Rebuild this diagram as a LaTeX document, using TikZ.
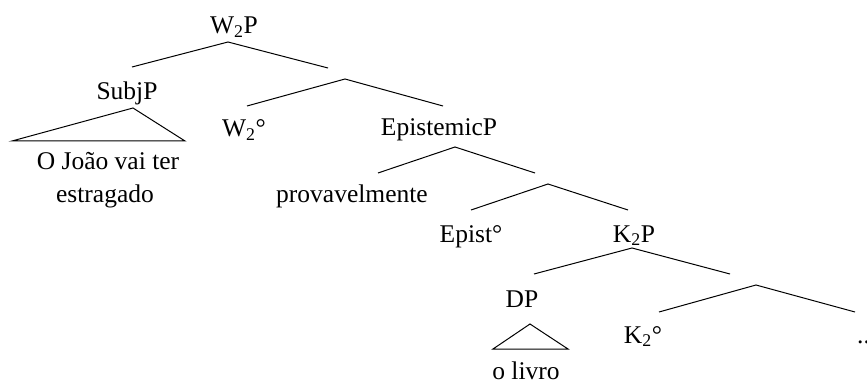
\documentclass[tikz,border=0pt]{standalone}
\usepackage{fontspec}
\setmainfont{Liberation Serif}
\begin{document}
\begin{tikzpicture}[x=1pt,y=-1pt,
  lbl/.style={anchor=base,inner sep=0pt,font=\fontsize{25.5}{30}\selectfont},
  branch/.style={line width=1pt,line join=miter}]
\useasboundingbox (0,0) rectangle (867,382);
\clip (0,0) rectangle (867,382);

% labels
\node[lbl] (w2p)   at (234,34)  {W\textsubscript{2}P};
\node[lbl] (subjp) at (127,100) {SubjP};
\node[lbl] (w2h)   at (244,137) {W\textsubscript{2}°};
\node[lbl] (epp)   at (439,136) {EpistemicP};
\node[lbl] (subj1) at (108,170) {O João vai ter};
\node[lbl] (subj2) at (105,203) {estragado};
\node[lbl] (adv)   at (352,203) {provavelmente};
\node[lbl] (eph)   at (471,242) {Epist°};
\node[lbl] (k2p)   at (634,242) {K\textsubscript{2}P};
\node[lbl] (dp)    at (522,307) {DP};
\node[lbl] (k2h)   at (643,343) {K\textsubscript{2}°};
\node[lbl,anchor=base west] (dots) at (857,343) {...};
\node[lbl] (obj)   at (526,379) {o livro};

% branch points
\coordinate (a1) at (228,42);  \coordinate (l1) at (132,67);  \coordinate (r1) at (328,68);
\coordinate (a2) at (345,79);  \coordinate (l2) at (247,106); \coordinate (r2) at (443,106);
\coordinate (a3) at (455,147); \coordinate (l3) at (378,173); \coordinate (r3) at (535,173);
\coordinate (a4) at (548,184); \coordinate (l4) at (471,210); \coordinate (r4) at (628,210);
\coordinate (a5) at (632,248); \coordinate (l5) at (534,274); \coordinate (r5) at (730,274);
\coordinate (a6) at (756,285); \coordinate (l6) at (659,312); \coordinate (r6) at (855,312);

\foreach \i in {1,...,6}{
  \draw[branch] (l\i) -- (a\i) -- (r\i);
}

% collapsed subtrees
\coordinate (t1a) at (133,108); \coordinate (t1l) at (12,141);  \coordinate (t1r) at (185,141);
\draw[branch] (t1a) -- (t1l) -- (t1r) -- cycle;
\coordinate (t2a) at (530,324); \coordinate (t2l) at (493,349); \coordinate (t2r) at (568,349);
\draw[branch] (t2a) -- (t2l) -- (t2r) -- cycle;
\end{tikzpicture}
\end{document}
